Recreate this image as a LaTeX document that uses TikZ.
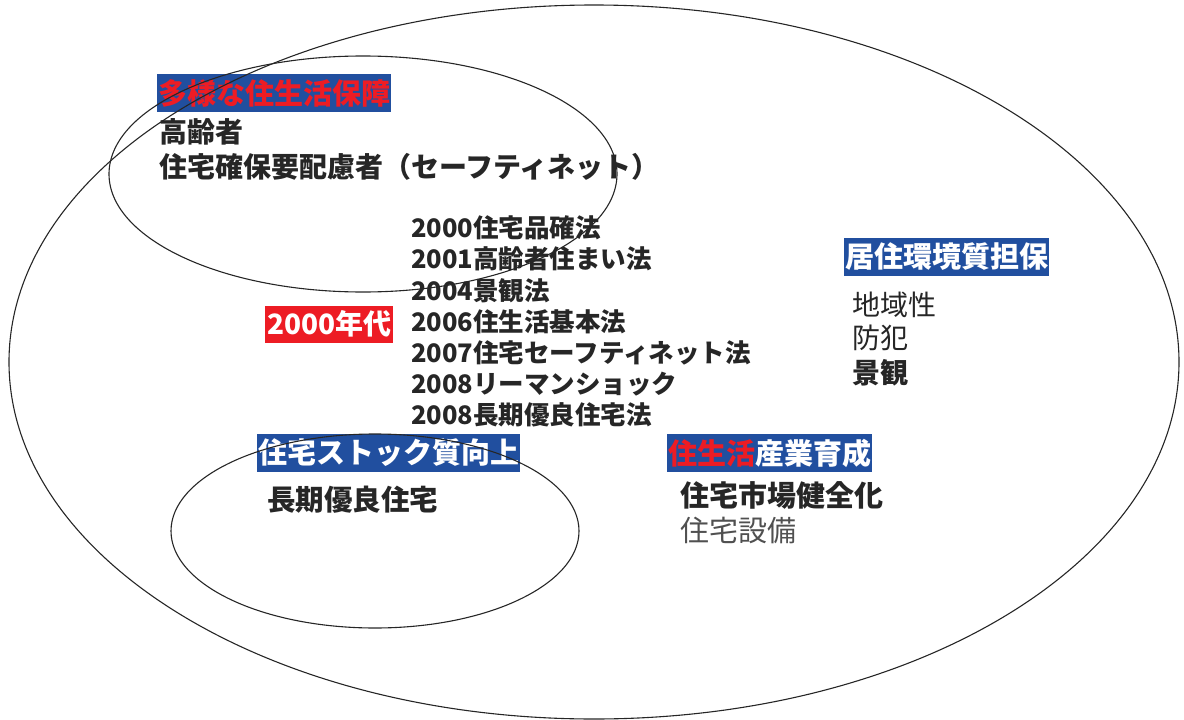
\documentclass[tikz,border=0pt]{standalone}
\usepackage{fontspec}
\setmainfont{Noto Sans CJK JP}
\definecolor{tagblue}{HTML}{214F9F}
\definecolor{tagred}{HTML}{ED1C24}
\definecolor{ink}{HTML}{262626}
\definecolor{softink}{HTML}{505050}

\begin{document}
\begin{tikzpicture}[x=1pt, y=-1pt,
    tag/.style={anchor=west, fill=tagblue, text=white, inner xsep=1pt, inner ysep=0pt,
        minimum height=38pt, font=\bfseries\fontsize{29}{29}\selectfont},
    item/.style={anchor=west, inner sep=0pt, text=ink, font=\bfseries\fontsize{28}{28}\selectfont},
    law/.style={anchor=west, inner sep=0pt, text=ink, font=\bfseries\fontsize{25.5}{25.5}\selectfont},
    plain/.style={anchor=west, inner sep=0pt, text=ink, font=\fontsize{28}{28}\selectfont},
    rim/.style={draw=black!85, line width=1.1pt}]
                \useasboundingbox (0,0) rectangle (1184,720);

                \node [tag, text=tagred] (safety) at (157, 93) {多様な住生活保障};
                \node [item] (elderly) at (159, 132) {高齢者};
                \node [item] (needy) at (159, 167) {住宅確保要配慮者（セーフティネット）};

                \node [anchor=west, fill=tagred, text=white, inner xsep=2pt, inner ysep=0pt,
                    minimum height=37pt, font=\bfseries\fontsize{28}{28}\selectfont] (era) at (265, 324) {2000年代};
                \node [law] (law1) at (411, 228) {2000住宅品確法};
                \node [law] (law2) at (411, 259) {2001高齢者住まい法};
                \node [law] (law3) at (411, 291) {2004景観法};
                \node [law] (law4) at (411, 322) {2006住生活基本法};
                \node [law] (law5) at (411, 353) {2007住宅セーフティネット法};
                \node [law] (law6) at (411, 384) {2008リーマンショック};
                \node [law] (law7) at (411, 415) {2008長期優良住宅法};

                \node [tag] (environ) at (844, 257) {居住環境質担保};
                \node [plain] (region) at (852, 305) {地域性};
                \node [plain] (crime) at (852, 338) {防犯};
                \node [plain, font=\bfseries\fontsize{28}{28}\selectfont] (scenery) at (852, 373) {景観};

                \node [tag] (stock) at (257, 453) {住宅ストック質向上};
                \node [item, font=\bfseries\fontsize{28.5}{28.5}\selectfont] (longlife) at (267, 500) {長期優良住宅};

                \node [tag] (industry) at (667, 453) {{\color{tagred}住生活}産業育成};
                \node [item, font=\bfseries\fontsize{29}{29}\selectfont] (market) at (680, 495) {住宅市場健全化};
                \node [plain, text=softink, font=\fontsize{29}{29}\selectfont] (equip) at (680, 530) {住宅設備};

                \draw [rim] (594, 362) ellipse [x radius=585pt, y radius=357pt];
                \draw [rim] (363, 174) ellipse [x radius=254pt, y radius=118pt];
                \draw [rim] (375, 531) ellipse [x radius=204pt, y radius=97pt];
            \end{tikzpicture}
\end{document}
